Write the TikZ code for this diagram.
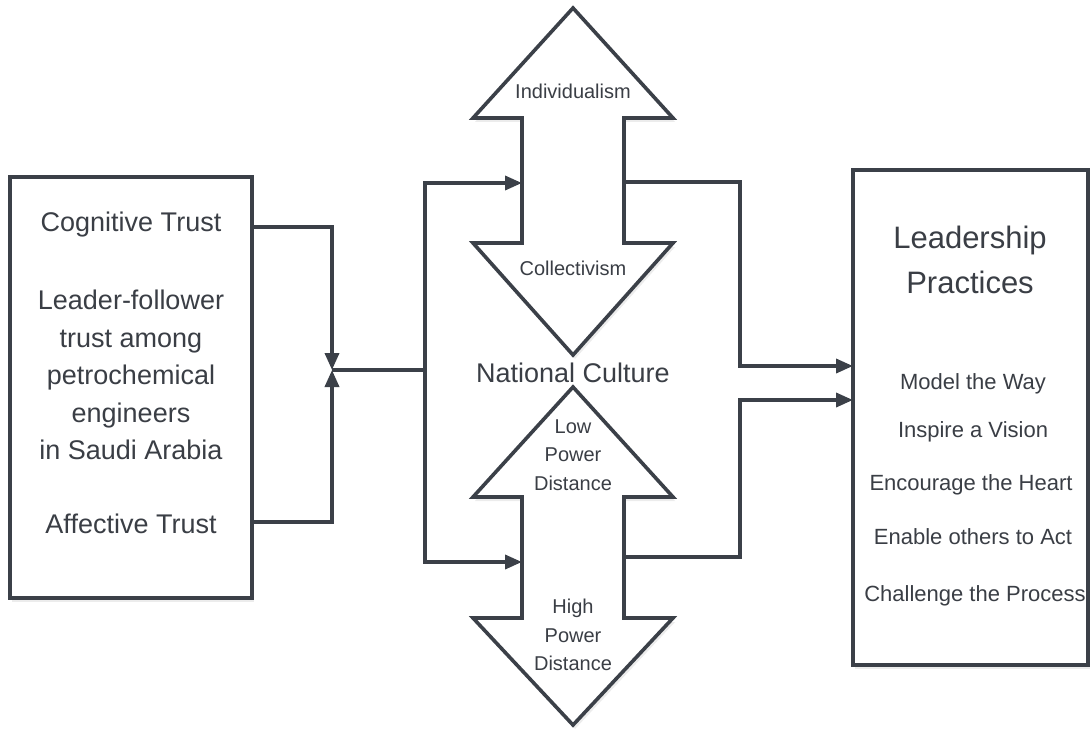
\documentclass[tikz,border=0pt]{standalone}
\usepackage{fontspec}
\setmainfont{Liberation Sans}
\usetikzlibrary{arrows.meta,shadows}
\definecolor{ink}{HTML}{3B4048}
\definecolor{txt}{HTML}{3A3E45}
\begin{document}
\begin{tikzpicture}[x=1pt,y=-1pt,
  line/.style={draw=ink,line width=3.6pt},
  tip/.style={-{Triangle[length=17pt,width=14pt]}},
  frame/.style={draw=ink,line width=3.6pt,fill=white,
    drop shadow={opacity=0.15,shadow xshift=2pt,shadow yshift=-4pt}},
  lbl/.style={text=txt,inner sep=0pt,align=center},
  big/.style={lbl,font=\fontsize{27}{37.5}\selectfont},
  small/.style={lbl,font=\fontsize{20}{28.5}\selectfont},
  item/.style={lbl,font=\fontsize{22}{26}\selectfont}]
\useasboundingbox (0,0) rectangle (1091,730);

% side boxes
\path[frame] (10,177) rectangle (252,598);
\coordinate (L) at (10,177);
\path[frame] (853,170) rectangle (1088,665);

% the two double arrows of national culture
\path[frame] (573,8) -- (673,118) -- (624,118) -- (624,243) -- (673,243)
  -- (573,355) -- (473,243) -- (522,243) -- (522,118) -- (473,118) -- cycle;
\path[frame] (573,387) -- (673,497) -- (624,497) -- (624,618) -- (673,618)
  -- (573,725) -- (473,618) -- (522,618) -- (522,497) -- (473,497) -- cycle;

% anchor points on the shapes
\coordinate (cogOut) at (252,227);
\coordinate (affOut) at (252,522);
\coordinate (join) at (332,370);
\coordinate (split) at (425,370);
\coordinate (icIn) at (522,183);
\coordinate (pdIn) at (522,562);
\coordinate (icOut) at (624,182);
\coordinate (pdOut) at (624,557);
\coordinate (lpIn1) at (853,366);
\coordinate (lpIn2) at (853,400);

% connectors
\draw[line,tip] (cogOut) -| (join);
\draw[line,tip] (affOut) -| (join);
\draw[line] (join) -- (split);
\draw[line,tip] (split) |- (icIn);
\draw[line,tip] (split) |- (pdIn);
\draw[line,tip] (icOut) -- (740,182) |- (lpIn1);
\draw[line,tip] (pdOut) -- (740,557) |- (lpIn2);

% texts of the left box
\node[big] (cog) at (131,225) {Cognitive Trust};
\node[big] (lft) at (131,375) {Leader-follower\\trust among\\petrochemical\\engineers\\in Saudi Arabia};
\node[big] (aff) at (131,524) {Affective Trust};

% texts of the arrows
\node[small] (ind) at (573,91) {Individualism};
\node[small] (col) at (573,268) {Collectivism};
\node[lbl,font=\fontsize{27}{30}\selectfont] (nc) at (573,373) {National Culture};
\node[small] (lpd) at (573,455) {Low\\Power\\Distance};
\node[small] (hpd) at (573,635) {High\\Power\\Distance};

% texts of the right box
\node[lbl,font=\fontsize{31}{45}\selectfont] (lp) at (970,260) {Leadership\\Practices};
\node[item] (m1) at (973,384) {Model the Way};
\node[item] (m2) at (973,432) {Inspire a Vision};
\node[item] (m3) at (971,485) {Encourage the Heart};
\node[item] (m4) at (973,537) {Enable others to Act};
\node[item] (m5) at (975,596) {Challenge the Process};
\end{tikzpicture}
\end{document}
